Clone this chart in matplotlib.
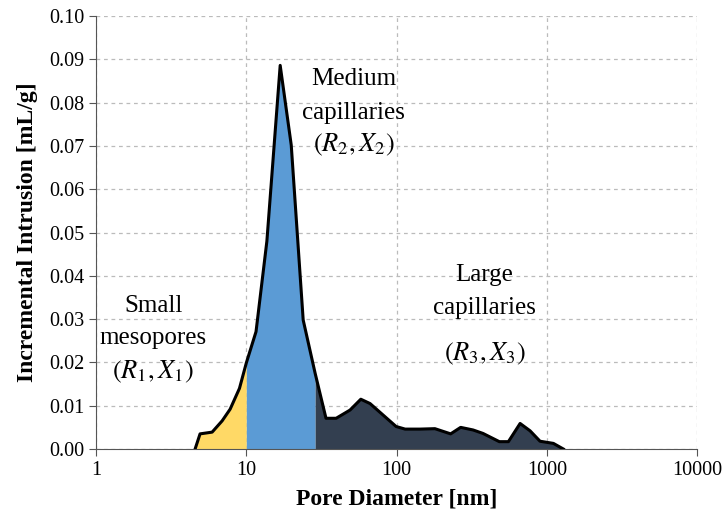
import numpy as np
import matplotlib
matplotlib.use("Agg")
import matplotlib.pyplot as plt

plt.rcParams['font.family'] = ['Liberation Serif', 'DejaVu Serif']
plt.rcParams['mathtext.fontset'] = 'stix'

# pore size distribution (diameter in nm, incremental intrusion in mL/g)
diameter = [4.56, 4.92, 5.92, 6.9, 7.8, 9.0, 10.0, 11.6, 13.7, 16.8, 19.9, 23.9,
            28.7, 33.9, 39.6, 49.0, 57.8, 66.6, 99.3, 114, 143, 180, 229, 267,
            323, 376, 483, 555, 664, 774, 901, 1106, 1289]
intrusion = [0.0, 0.0035, 0.0039, 0.0065, 0.0092, 0.0140, 0.0199, 0.0271, 0.0480,
             0.0886, 0.0702, 0.0298, 0.0175, 0.0071, 0.0071, 0.0090, 0.0115, 0.0105,
             0.0052, 0.0046, 0.0046, 0.0047, 0.0035, 0.0050, 0.0044, 0.0036, 0.0017,
             0.0017, 0.0059, 0.0042, 0.0018, 0.0013, 0.0]

# class boundaries [nm]
bounds = [4.56, 10.0, 28.7, 1289]
colors = ['#FFD966', '#5B9BD5', '#333F50']
names = [["Small", "mesopores", r"$(R_1, X_1)$"],
         ["Medium", "capillaries", r"$(R_2, X_2)$"],
         ["Large", "capillaries", r"$(R_3, X_3)$"]]
name_x = [2.40, 52.0, 385]
name_y = [[0.0331, 0.0256, 0.0178],
          [0.0855, 0.0776, 0.0702],
          [0.0402, 0.0326, 0.0219]]

d = np.array(diameter)
v = np.array(intrusion)

fig = plt.figure(figsize=(7.28, 5.2), dpi=100)
ax = fig.add_axes([0.132, 0.1365, 0.8255, 0.8327])

# fill each pore class on a fine log grid so the boundaries are vertical
for i in range(3):
    xs = np.logspace(np.log10(bounds[i]), np.log10(bounds[i+1]), 400)
    ys = np.interp(np.log10(xs), np.log10(d), v)
    ax.fill_between(xs, 0, ys, color=colors[i], lw=0, zorder=2)

ax.plot(d, v, color='black', lw=2.2, zorder=3)

ax.set_xscale('log')
ax.set_xlim(1, 10000)
ax.set_ylim(0, 0.10)
ax.set_xticks([1, 10, 100, 1000, 10000])
ax.set_xticklabels(['1', '10', '100', '1000', '10000'])
ax.set_yticks(np.arange(0, 0.101, 0.01))
ax.set_yticklabels([f"{t:.2f}" for t in np.arange(0, 0.101, 0.01)])
ax.minorticks_off()
ax.tick_params(labelsize=14.5, direction='out', length=5, color='#555555')
ax.grid(True, ls=(0, (3, 3)), color='#BBBBBB', lw=0.9, zorder=0)
ax.set_axisbelow(True)
for s in ['top', 'right']:
    ax.spines[s].set_visible(False)
for s in ['left', 'bottom']:
    ax.spines[s].set_color('#555555')

ax.set_xlabel("Pore Diameter [nm]", fontsize=17, fontweight='bold', labelpad=6)
ax.set_ylabel("Incremental Intrusion [mL/g]", fontsize=17, fontweight='bold', labelpad=8)

# class annotations
for i in range(3):
    for j in range(3):
        fs = 19 if j == 2 else 18
        ax.text(name_x[i], name_y[i][j], names[i][j], ha='center', va='center', fontsize=fs)

fig.savefig("out.png", dpi=100)
